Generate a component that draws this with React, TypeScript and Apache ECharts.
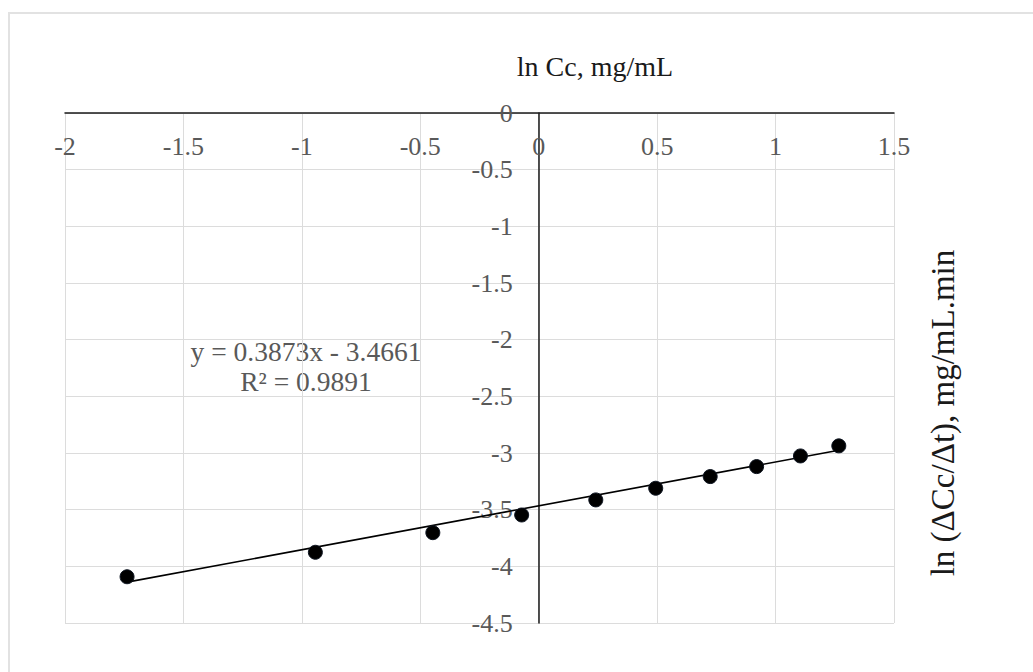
import React, { useEffect, useRef } from "react";
import * as echarts from "echarts";

// Data
const lnCc = [-1.738, -0.943, -0.447, -0.072, 0.241, 0.494, 0.724, 0.92, 1.105, 1.267];
const lnRate = [-4.092, -3.876, -3.703, -3.547, -3.414, -3.311, -3.208, -3.12, -3.026, -2.937];

// Excel trendline shown on the chart
const TREND_SLOPE = 0.3873;
const TREND_INTERCEPT = -3.4661;
const equationLines = ["y = 0.3873x - 3.4661", "R² = 0.9891"];

const X_MIN = -2;
const X_MAX = 1.5;
const Y_MIN = -4.5;
const Y_MAX = 0;
const STEP = 0.5;

const xTitle = "ln Cc, mg/mL";
const yTitle = "ln (ΔCc/Δt), mg/mL.min";

const FONT = "Liberation Serif";

const GRID = { left: 65, top: 113, width: 829, height: 510 };

export default function App() {
  const ref = useRef<HTMLDivElement>(null);

  useEffect(() => {
    document.body.style.margin = "0";
    const chart = echarts.init(ref.current!, null, { renderer: "svg" });
    const points = lnCc.map((x, i) => [x, lnRate[i]]);
    const xLo = Math.min(...lnCc);
    const xHi = Math.max(...lnCc);
    const trend = [
      [xLo, TREND_SLOPE * xLo + TREND_INTERCEPT],
      [xHi, TREND_SLOPE * xHi + TREND_INTERCEPT],
    ];
    // y axis sits at x = 0, inside the grid
    const yAxisOffset = -((0 - X_MIN) / (X_MAX - X_MIN)) * GRID.width;

    chart.setOption({
      animation: false,
      backgroundColor: "#ffffff",
      grid: GRID,
      xAxis: {
        type: "value",
        min: X_MIN,
        max: X_MAX,
        interval: STEP,
        position: "top",
        axisLine: { onZero: false, lineStyle: { color: "#1a1a1a", width: 1.5 } },
        axisTick: { show: false },
        axisLabel: {
          inside: true,
          margin: 20,
          color: "#595959",
          fontFamily: FONT,
          fontSize: 26,
          formatter: (v: number) => String(v),
        },
        splitLine: { show: true, lineStyle: { color: "#dcdcdc", width: 1 } },
      },
      yAxis: {
        type: "value",
        min: Y_MIN,
        max: Y_MAX,
        interval: STEP,
        position: "left",
        offset: yAxisOffset,
        axisLine: { onZero: false, lineStyle: { color: "#1a1a1a", width: 1.5 } },
        axisTick: { show: false },
        axisLabel: {
          margin: 26,
          color: "#595959",
          fontFamily: FONT,
          fontSize: 26,
          formatter: (v: number) => String(v),
        },
        splitLine: { show: true, lineStyle: { color: "#dcdcdc", width: 1 } },
      },
      series: [
        {
          type: "line",
          data: trend,
          symbol: "none",
          lineStyle: { color: "#000000", width: 1.6 },
          z: 2,
        },
        {
          type: "scatter",
          data: points,
          symbol: "circle",
          symbolSize: 14,
          itemStyle: { color: "#000000", borderColor: "#0d1420", borderWidth: 1, opacity: 1 },
          z: 3,
        },
      ],
      graphic: [
        {
          type: "rect",
          shape: { x: 9, y: 13, width: 1100, height: 700 },
          style: { fill: "none", stroke: "#e2e2e2", lineWidth: 2 },
          z: -10,
          silent: true,
        },
        {
          type: "text",
          x: 595,
          y: 66,
          style: {
            text: xTitle,
            align: "center",
            verticalAlign: "middle",
            fontFamily: FONT,
            fontSize: 28,
            fill: "#1a1a1a",
          },
        },
        {
          type: "text",
          x: 943,
          y: 413,
          rotation: Math.PI / 2,
          style: {
            text: yTitle,
            align: "center",
            verticalAlign: "middle",
            fontFamily: FONT,
            fontSize: 33,
            fill: "#1a1a1a",
          },
        },
        {
          type: "text",
          x: 306,
          y: 351,
          style: {
            text: equationLines[0],
            align: "center",
            verticalAlign: "middle",
            fontFamily: FONT,
            fontSize: 27.5,
            fill: "#595959",
          },
        },
        {
          type: "text",
          x: 306,
          y: 381,
          style: {
            text: equationLines[1],
            align: "center",
            verticalAlign: "middle",
            fontFamily: FONT,
            fontSize: 27.5,
            fill: "#595959",
          },
        },
      ],
    });

    return () => chart.dispose();
  }, []);

  return <div ref={ref} style={{ width: 1033, height: 672 }} />;
}
